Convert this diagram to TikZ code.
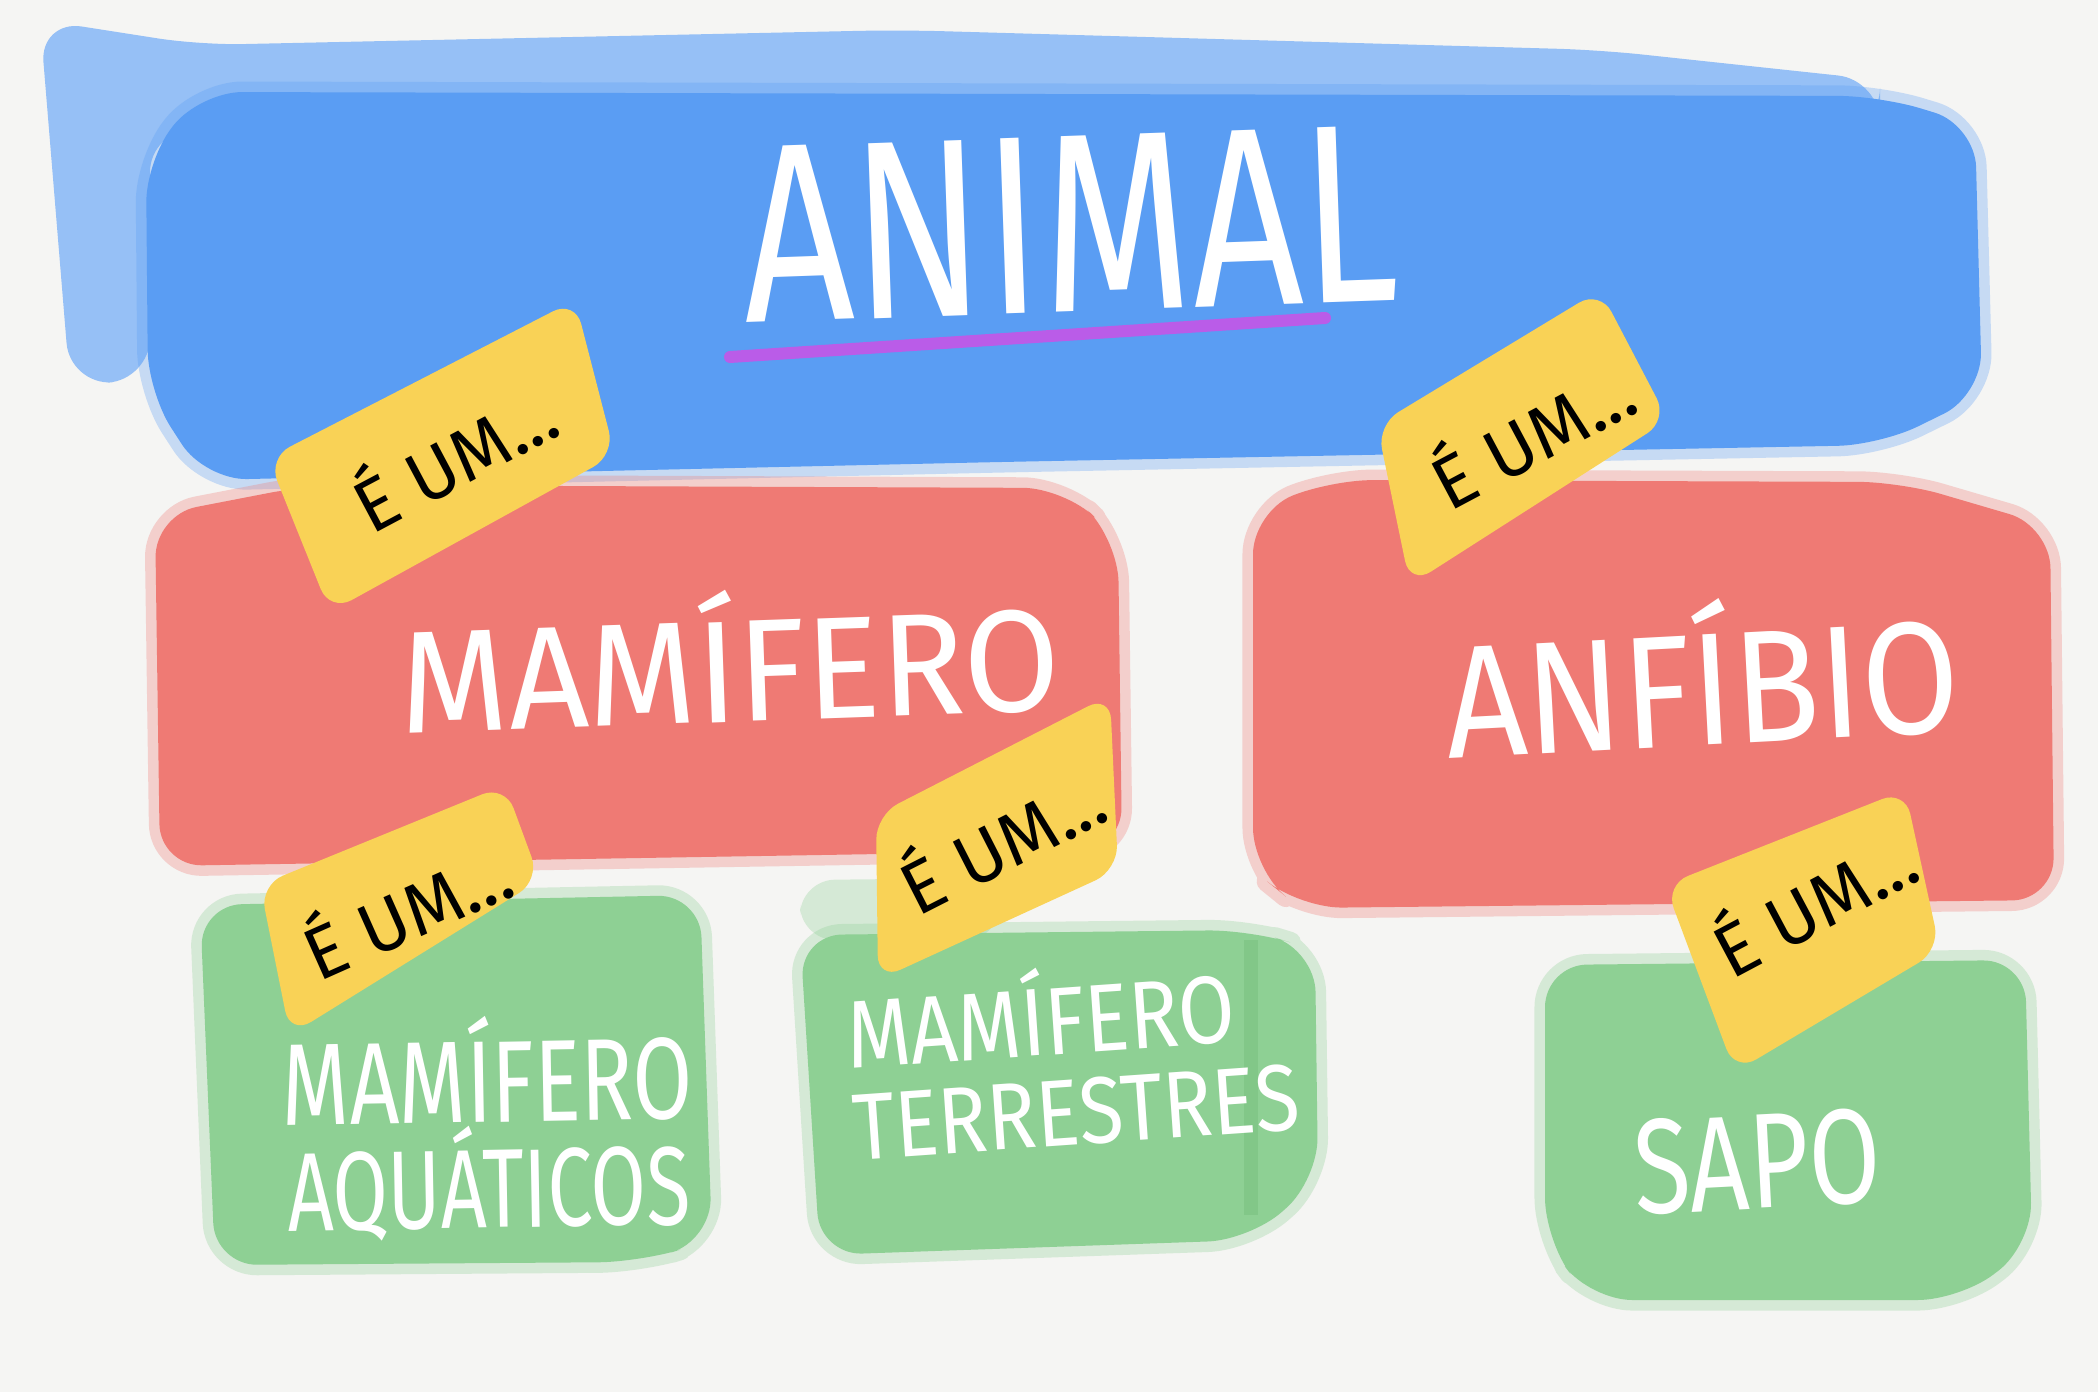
\documentclass[tikz,border=0pt]{standalone}
\usepackage{fontspec}
\setmainfont{Fira Sans}
\usepackage{graphicx}

\definecolor{paper}{RGB}{245,245,243}
\definecolor{animalblue}{RGB}{90,157,243}
\definecolor{fadeblue}{RGB}{150,192,246}
\definecolor{classred}{RGB}{239,122,116}
\definecolor{leafgreen}{RGB}{142,208,148}
\definecolor{stripgreen}{RGB}{122,194,128}
\definecolor{tagyellow}{RGB}{249,210,86}
\definecolor{linepurple}{RGB}{186,92,232}

% text squeezed to a given width and cap height
\newcommand{\handtext}[3]{\resizebox{#1}{#2}{\smash{#3}\vphantom{M}}}

\begin{document}
\begin{tikzpicture}[x=0.01cm, y=-0.01cm,
    paint/.style={fill=#1, rounded corners=12pt,
      preaction={draw=#1, draw opacity=0.3, line width=6pt, line join=round}},
    tag/.style={fill=tagyellow, rounded corners=7pt},
    whitetext/.style={text=white, inner sep=0pt},
    tagtext/.style={font=\fontsize{21}{21}\selectfont, inner sep=0pt}]

    % Papel
    \fill[paper] (0,0) rectangle (2098,1392);
    \useasboundingbox (0,0) rectangle (2098,1392);

    % Faixa azul (ANIMAL)
    \fill[fadeblue, rounded corners=12pt] (40,20) -- (200,45) -- (900,30) -- (1600,50) -- (1880,80)
        -- (1880,130) -- (150,130) -- (150,380) -- (70,385) -- cycle;
    \path[paint=animalblue] (200,92) -- (1880,96) -- (1975,125) -- (1982,395) -- (1880,445)
        -- (1000,462) -- (205,480) -- (148,392) -- (146,160) -- cycle;

    % Faixas vermelhas
    \path[paint=classred] (155,515) -- (310,485) -- (1065,488) -- (1118,540)
        -- (1122,850) -- (160,866) -- cycle;
    \path[paint=classred] (1253,512) -- (1330,480) -- (1900,482) -- (2050,526)
        -- (2054,900) -- (1300,908) -- (1253,870) -- cycle;

    % Caixas verdes
    \path[paint=leafgreen] (200,905) -- (700,895) -- (712,1240) -- (640,1262) -- (215,1265) -- cycle;
    \fill[leafgreen, opacity=0.3, rounded corners=10pt] (800,880) -- (1000,878) -- (1000,940) -- (800,940) -- cycle;
    \path[paint=leafgreen] (800,935) -- (1250,930) -- (1315,950) -- (1318,1180) -- (1250,1240)
        -- (820,1255) -- cycle;
    \fill[stripgreen, opacity=0.6] (1244,940) rectangle (1258,1215);
    \path[paint=leafgreen] (1545,965) -- (2025,960) -- (2032,1245) -- (1960,1300) -- (1590,1300)
        -- (1545,1240) -- cycle;

    % Textos
    \node[whitetext, rotate=2] (animal) at (1070,224) {\handtext{6.55cm}{1.75cm}{ANIMAL}};
    \draw[linepurple, line width=12pt*0.2845, line cap=round] (730,357) -- (1325,318);
    \node[whitetext, rotate=2] (mamifero) at (730,672) {\handtext{6.6cm}{1cm}{MAMÍFERO}};
    \node[whitetext, rotate=3] (anfibio) at (1702,690) {\handtext{5.14cm}{1.1cm}{ANFÍBIO}};
    \node[whitetext, align=center, font=\fontsize{10pt}{30pt}\selectfont, rotate=1] (aquaticos)
        at (488,1135) {\handtext{4.1cm}{0.8cm}{MAMÍFERO}\\\handtext{4.03cm}{0.77cm}{AQUÁTICOS}};
    \node[whitetext, align=left, font=\fontsize{10pt}{26pt}\selectfont, rotate=4] (terrestres)
        at (1073,1066) {\handtext{3.89cm}{0.66cm}{MAMÍFERO}\\\handtext{4.47cm}{0.65cm}{TERRESTRES}};
    \node[whitetext, rotate=3] (sapo) at (1757,1162) {\handtext{2.47cm}{0.93cm}{SAPO}};

    % Etiquetas "É UM..."
    \path[tag] (268,458) -- (575,300) -- (615,455) -- (330,612) -- cycle;
    \node[tagtext, rotate=28] (isMamifero) at (452,455) {É UM...};
    \path[tag] (1377,425) -- (1600,290) -- (1668,420) -- (1410,585) -- cycle;
    \node[tagtext, rotate=28] (isAnfibio) at (1530,432) {É UM...};
    \path[tag] (260,885) -- (505,785) -- (540,880) -- (290,1035) -- cycle;
    \node[tagtext, rotate=24] (isAquatico) at (405,908) {É UM...};
    \path[tag] (876,815) -- (1110,695) -- (1118,870) -- (878,980) -- cycle;
    \node[tagtext, rotate=27] (isTerrestre) at (1000,838) {É UM...};
    \path[tag] (1665,885) -- (1905,790) -- (1940,950) -- (1735,1072) -- cycle;
    \node[tagtext, rotate=28] (isSapo) at (1812,900) {É UM...};
\end{tikzpicture}
\end{document}
